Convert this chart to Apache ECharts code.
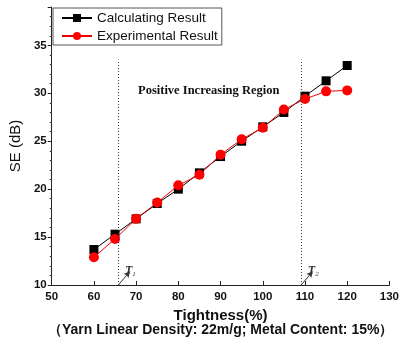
<!DOCTYPE html>
<html><head><meta charset="utf-8">
<script src="https://cdn.jsdelivr.net/npm/echarts@6/dist/echarts.min.js"></script>
<style>html,body{margin:0;padding:0;background:#fff}#c{width:402px;height:342px}</style>
</head><body><div id="c"></div>
<script>
const tightness = [60, 65, 70, 75, 80, 85, 90, 95, 100, 105, 110, 115, 120];
const calculating = [13.7, 15.3, 16.9, 18.5, 20.0, 21.7, 23.4, 25.0, 26.5, 28.0, 29.7, 31.3, 32.9];
const experimental = [12.9, 14.8, 16.9, 18.6, 20.4, 21.5, 23.6, 25.2, 26.4, 28.3, 29.4, 30.2, 30.3];
const boundaries = [65.8, 109.1];
const boundaryLabels = ['T', 'T'];
const boundarySubs = ['1', '2'];

const chart = echarts.init(document.getElementById('c'));
const pair = (xs, ys) => xs.map((x, i) => [x, ys[i]]);

const vLines = boundaries.map(b => [{coord: [b, 10]}, {coord: [b, 33.5]}]);
const arrows = boundaries.map((b, i) => [
  {coord: [b, 10]},
  {coord: [b + 2.7, 11.4], label: {show: true, position: 'end', distance: 1,
     formatter: '{t|' + boundaryLabels[i] + '}{s|' + boundarySubs[i] + '}',
     rich: {t: {fontFamily: 'Liberation Serif', fontStyle: 'italic', fontWeight: 'bold', fontSize: 12, color: '#333'},
            s: {fontFamily: 'Liberation Serif', fontStyle: 'italic', fontSize: 7, color: '#333', padding: [6, 0, 0, 0]}}}}
]);

chart.setOption({
  animation: false,
  grid: {left: 51, right: 11, top: 7, bottom: 57},
  legend: {
    left: 53, top: 8, orient: 'vertical', itemGap: 4, itemWidth: 30, itemHeight: 10,
    borderColor: '#555', borderWidth: 1, padding: [3, 4, 2, 8],
    textStyle: {fontFamily: 'Liberation Sans', fontSize: 13.5, color: '#111'},
    data: ['Calculating Result', 'Experimental Result']
  },
  xAxis: {
    type: 'value', min: 50, max: 130, interval: 10,
    axisLine: {lineStyle: {color: '#222', width: 1}},
    axisTick: {inside: true, length: 4, lineStyle: {color: '#222'}},
    splitLine: {show: false},
    axisLabel: {color: '#111', fontWeight: 'bold', fontFamily: 'Liberation Sans', fontSize: 11.5, margin: 6},
    name: 'Tightness(%)', nameLocation: 'middle', nameGap: 20,
    nameTextStyle: {fontFamily: 'Liberation Sans', fontWeight: 'bold', fontSize: 15, color: '#111'}
  },
  yAxis: {
    type: 'value', min: 10, max: 39, interval: 5,
    axisLine: {show: true, lineStyle: {color: '#222', width: 1}},
    axisTick: {show: true, length: 4, lineStyle: {color: '#222'}},
    minorTick: {show: true, splitNumber: 5, length: 2, lineStyle: {color: '#444'}},
    splitLine: {show: false},
    axisLabel: {color: '#111', fontWeight: 'bold', fontFamily: 'Liberation Sans', fontSize: 11.5, margin: 5, showMaxLabel: false},
    name: 'SE (dB)', nameLocation: 'middle', nameGap: 22, nameRotate: 90,
    nameTextStyle: {fontFamily: 'Liberation Sans', fontSize: 15, color: '#111'}
  },
  series: [
    {
      name: 'Calculating Result', type: 'line', data: pair(tightness, calculating),
      symbol: 'rect', symbolSize: 9, lineStyle: {color: '#000', width: 1}, itemStyle: {color: '#000'},
      z: 3,
      markLine: {
        silent: true, symbol: 'none', animation: false,
        lineStyle: {type: [1, 2], color: '#333', width: 1},
        label: {show: false},
        data: vLines
      }
    },
    {
      name: 'Experimental Result', type: 'line', data: pair(tightness, experimental),
      symbol: 'circle', symbolSize: 10, lineStyle: {color: '#e00', width: 1}, itemStyle: {color: '#f00'},
      z: 4,
      markLine: {
        silent: true, symbol: ['none', 'arrow'], symbolSize: [5, 6], animation: false,
        lineStyle: {type: 'solid', color: '#333', width: 1},
        data: arrows
      }
    }
  ],
  graphic: [
    {type: 'text', left: 138, top: 84,
     style: {text: 'Positive Increasing Region', fontFamily: 'Liberation Serif', fontWeight: 'bold', fontSize: 12.5, fill: '#111'}},
    {type: 'text', left: 48, top: 323,
     style: {text: '（Yarn Linear Density: 22m/g; Metal Content: 15%）', fontFamily: 'Liberation Sans', fontWeight: 'bold', fontSize: 14, fill: '#111'}}
  ]
});
</script></body></html>
